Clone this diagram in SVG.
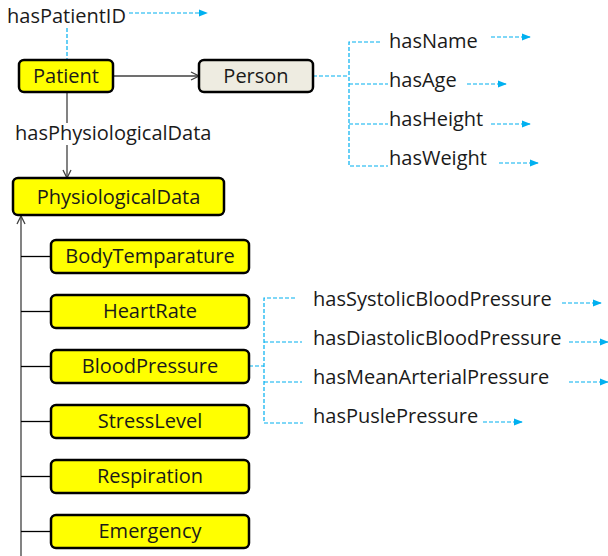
<svg xmlns="http://www.w3.org/2000/svg" width="608" height="556" viewBox="0 0 608 556">
<defs>
<marker id="open" viewBox="0 0 10 10" refX="9" refY="5" markerWidth="10" markerHeight="10" markerUnits="userSpaceOnUse" orient="auto">
<path d="M1,1 L9,5 L1,9" fill="none" stroke="#404040" stroke-width="1.3"/>
</marker>
<marker id="blue" viewBox="0 0 10 10" refX="9" refY="5" markerWidth="9" markerHeight="9" markerUnits="userSpaceOnUse" orient="auto">
<path d="M0,1 L10,5 L0,9 Z" fill="#00B0F0"/>
</marker>
</defs>
<style>
text{font-family:"Open Sans","Liberation Sans",sans-serif;font-size:20px;fill:#1a1a1a}
.c{text-anchor:middle}
.box{fill:#FFFF00;stroke:#000;stroke-width:2.5}
.pbox{fill:#EEECE1;stroke:#000;stroke-width:2.5}
.solid{stroke:#404040;stroke-width:1.3;fill:none}
.tie{stroke:#000;stroke-width:1.3;fill:none}
.dash{stroke:#00B0F0;stroke-width:1.2;stroke-dasharray:4 2;fill:none}
</style>
<rect width="608" height="556" fill="#fff"/>
<g id="connectors">
<line class="dash" x1="67" y1="28" x2="67" y2="60"/>
<line class="dash" x1="129" y1="13" x2="207" y2="13" marker-end="url(#blue)"/>
<line class="solid" x1="113" y1="76" x2="199" y2="76" marker-end="url(#open)"/>
<line class="solid" x1="67" y1="92" x2="67" y2="178" marker-end="url(#open)"/>
<line class="solid" x1="21" y1="556" x2="21" y2="216" marker-end="url(#open)"/>
<line class="tie" x1="21" y1="256.5" x2="51" y2="256.5"/>
<line class="tie" x1="21" y1="311.5" x2="51" y2="311.5"/>
<line class="tie" x1="21" y1="366.5" x2="51" y2="366.5"/>
<line class="tie" x1="21" y1="421.5" x2="51" y2="421.5"/>
<line class="tie" x1="21" y1="476.5" x2="51" y2="476.5"/>
<line class="tie" x1="21" y1="531.5" x2="51" y2="531.5"/>
<path class="dash" d="M313,76 H349 M380,42 H349 V166 H388 M349,84 H388 M349,124 H388"/>
<line class="dash" x1="491" y1="37" x2="530" y2="37" marker-end="url(#blue)"/>
<line class="dash" x1="467" y1="84" x2="506" y2="84" marker-end="url(#blue)"/>
<line class="dash" x1="491" y1="124" x2="530" y2="124" marker-end="url(#blue)"/>
<line class="dash" x1="499" y1="163" x2="538" y2="163" marker-end="url(#blue)"/>
<path class="dash" d="M249,366 H264 M295,298 H264 V423 H303 M264,342 H302 M264,382 H302"/>
<line class="dash" x1="562" y1="303" x2="601" y2="303" marker-end="url(#blue)"/>
<line class="dash" x1="569" y1="342" x2="608" y2="342" marker-end="url(#blue)"/>
<line class="dash" x1="569" y1="382" x2="608" y2="382" marker-end="url(#blue)"/>
<line class="dash" x1="483" y1="422" x2="522" y2="422" marker-end="url(#blue)"/>
</g>
<g id="labels">
<text x="7" y="23">hasPatientID</text>
<rect x="14" y="123" width="203" height="22" fill="#fff"/>
<text x="15" y="140">hasPhysiologicalData</text>
<text x="389" y="48">hasName</text>
<text x="389" y="87">hasAge</text>
<text x="389" y="126">hasHeight</text>
<text x="389" y="165">hasWeight</text>
<text x="313" y="306">hasSystolicBloodPressure</text>
<text x="313" y="345">hasDiastolicBloodPressure</text>
<text x="313" y="384">hasMeanArterialPressure</text>
<text x="313" y="423">hasPuslePressure</text>
</g>
<g id="patient"><rect class="box" x="19" y="60" width="94" height="32" rx="5"/><text class="c" x="66" y="83">Patient</text></g>
<g id="person"><rect class="pbox" x="199" y="60" width="114" height="32" rx="5"/><text class="c" x="256" y="83">Person</text></g>
<g id="physiologicaldata"><rect class="box" x="13" y="178" width="211" height="37" rx="5"/><text class="c" x="118.5" y="204">PhysiologicalData</text></g>
<g id="bodytemparature"><rect class="box" x="51" y="240" width="198" height="33" rx="5"/><text class="c" x="150" y="263">BodyTemparature</text></g>
<g id="heartrate"><rect class="box" x="51" y="295" width="198" height="33" rx="5"/><text class="c" x="150" y="318">HeartRate</text></g>
<g id="bloodpressure"><rect class="box" x="51" y="350" width="198" height="33" rx="5"/><text class="c" x="150" y="373">BloodPressure</text></g>
<g id="stresslevel"><rect class="box" x="51" y="405" width="198" height="33" rx="5"/><text class="c" x="150" y="428">StressLevel</text></g>
<g id="respiration"><rect class="box" x="51" y="460" width="198" height="33" rx="5"/><text class="c" x="150" y="483">Respiration</text></g>
<g id="emergency"><rect class="box" x="51" y="515" width="198" height="33" rx="5"/><text class="c" x="150" y="538">Emergency</text></g>
</svg>
